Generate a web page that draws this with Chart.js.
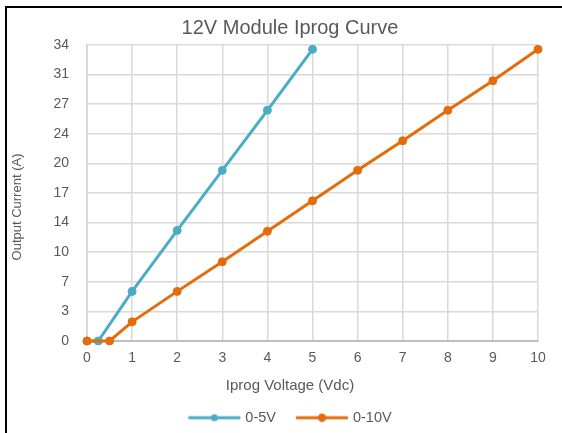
<!DOCTYPE html>
<html><head><meta charset="utf-8">
<script src="https://cdn.jsdelivr.net/npm/chart.js@4"></script>
<style>
html,body{margin:0;padding:0;overflow:hidden;background:#fff;width:562px;height:433px}
#wrap{position:relative;width:562px;height:433px;overflow:hidden}
#frame{position:absolute;left:5px;top:6px;width:700px;height:600px;border-top:2px solid #000;border-left:2px solid #000;pointer-events:none}
canvas{position:absolute;left:0;top:0}
</style></head><body>
<div id="wrap"><canvas id="c" width="580" height="435"></canvas><div id="frame"></div></div>
<script>
const chartTitle = '12V Module Iprog Curve';
const xAxisTitle = 'Iprog Voltage (Vdc)';
const yAxisTitle = 'Output Current (A)';
const seriesNames = ['0-5V', '0-10V'];
const x05 = [0, 0.25, 1, 2, 3, 4, 5];
const y05 = [0, 0, 5.7, 12.7, 19.6, 26.5, 33.5];
const x010 = [0, 0.5, 1, 2, 3, 4, 5, 6, 7, 8, 9, 10];
const y010 = [0, 0, 2.2, 5.7, 9.1, 12.6, 16.1, 19.6, 23.0, 26.5, 29.9, 33.5];
const yTickLabels = ['0', '3', '7', '10', '14', '17', '20', '24', '27', '31', '34'];
const xTickLabels = ['0', '1', '2', '3', '4', '5', '6', '7', '8', '9', '10'];
const seriesColors = ['#4BACC6', '#E46C0A'];

const FONT = "'Liberation Sans', Arial, sans-serif";
const TXT = '#595959';

// legend sample: 52px line with a marker; box width 49.75, image 56 wide centred on box
function legendIcon(color, r) {
  const c = document.createElement('canvas');
  c.width = 56; c.height = 12;
  const g = c.getContext('2d');
  const off = 3.125;
  g.strokeStyle = color; g.lineWidth = 3; g.lineCap = 'butt';
  g.beginPath(); g.moveTo(off, 6); g.lineTo(off + 52, 6); g.stroke();
  g.fillStyle = color; g.beginPath(); g.arc(off + 26, 6, r, 0, Math.PI * 2); g.fill();
  return c;
}
const icons = [legendIcon(seriesColors[0], 3.5), legendIcon(seriesColors[1], 4.2)];

const yTitlePlugin = {
  id: 'yTitle',
  afterDraw(chart) {
    const ctx = chart.ctx, a = chart.chartArea;
    ctx.save();
    ctx.translate(17, (a.top + a.bottom) / 2 + 14);
    ctx.rotate(-Math.PI / 2);
    ctx.font = '13px ' + FONT;
    ctx.fillStyle = TXT;
    ctx.textAlign = 'center';
    ctx.textBaseline = 'middle';
    ctx.fillText(yAxisTitle, 0, 0);
    ctx.restore();
  }
};

new Chart(document.getElementById('c'), {
  type: 'line',
  data: {
    datasets: [
      { label: seriesNames[0], data: x05.map((x, i) => ({ x, y: y05[i] })), borderColor: seriesColors[0], backgroundColor: seriesColors[0],
        borderWidth: 3, pointRadius: 4, pointBorderWidth: 1, pointBackgroundColor: seriesColors[0], order: 1, clip: false },
      { label: seriesNames[1], data: x010.map((x, i) => ({ x, y: y010[i] })), borderColor: seriesColors[1], backgroundColor: seriesColors[1],
        borderWidth: 3, pointRadius: 4, pointBorderWidth: 1, pointBackgroundColor: seriesColors[1], order: 0, clip: false }
    ]
  },
  options: {
    responsive: false,
    animation: false,
    layout: { padding: { left: 42, right: 42, top: 0, bottom: 0 } },
    plugins: {
      tooltip: { enabled: false },
      title: { display: true, text: chartTitle, color: TXT, font: { family: FONT, size: 20, weight: 'normal' }, padding: { top: 16, bottom: 5 } },
      legend: {
        position: 'bottom',
        title: { display: true, text: xAxisTitle, color: TXT, font: { family: FONT, size: 15 }, padding: { top: 0, bottom: -5.75 } },
        labels: {
          usePointStyle: true, pointStyleWidth: 49.75, padding: 20, color: TXT,
          font: { family: FONT, size: 14.5 },
          sort: (a, b) => a.datasetIndex - b.datasetIndex,
          generateLabels(chart) {
            const items = Chart.defaults.plugins.legend.labels.generateLabels(chart);
            items.forEach(it => { it.pointStyle = icons[it.datasetIndex]; });
            return items;
          }
        }
      }
    },
    scales: {
      x: {
        type: 'linear', min: 0, max: 10,
        ticks: { stepSize: 1, color: TXT, font: { family: FONT, size: 14 }, padding: 9, maxRotation: 0,
          callback: (v, i) => xTickLabels[i] },
        grid: { color: '#d9d9d9', lineWidth: 1.5, drawTicks: false },
        border: { color: '#bfbfbf', width: 2 },
        afterFit: s => { s.height = 37.25; }
      },
      y: {
        type: 'linear', min: 0, max: 34,
        ticks: { stepSize: 3.4, color: TXT, font: { family: FONT, size: 14 }, padding: 18,
          callback: (v, i) => yTickLabels[i] },
        grid: { color: '#d9d9d9', lineWidth: 1.5, drawTicks: false },
        border: { color: '#d0d0d0', width: 1.5 },
        afterFit: s => { s.width = 45; }
      }
    }
  },
  plugins: [yTitlePlugin]
});
</script>
</body></html>
